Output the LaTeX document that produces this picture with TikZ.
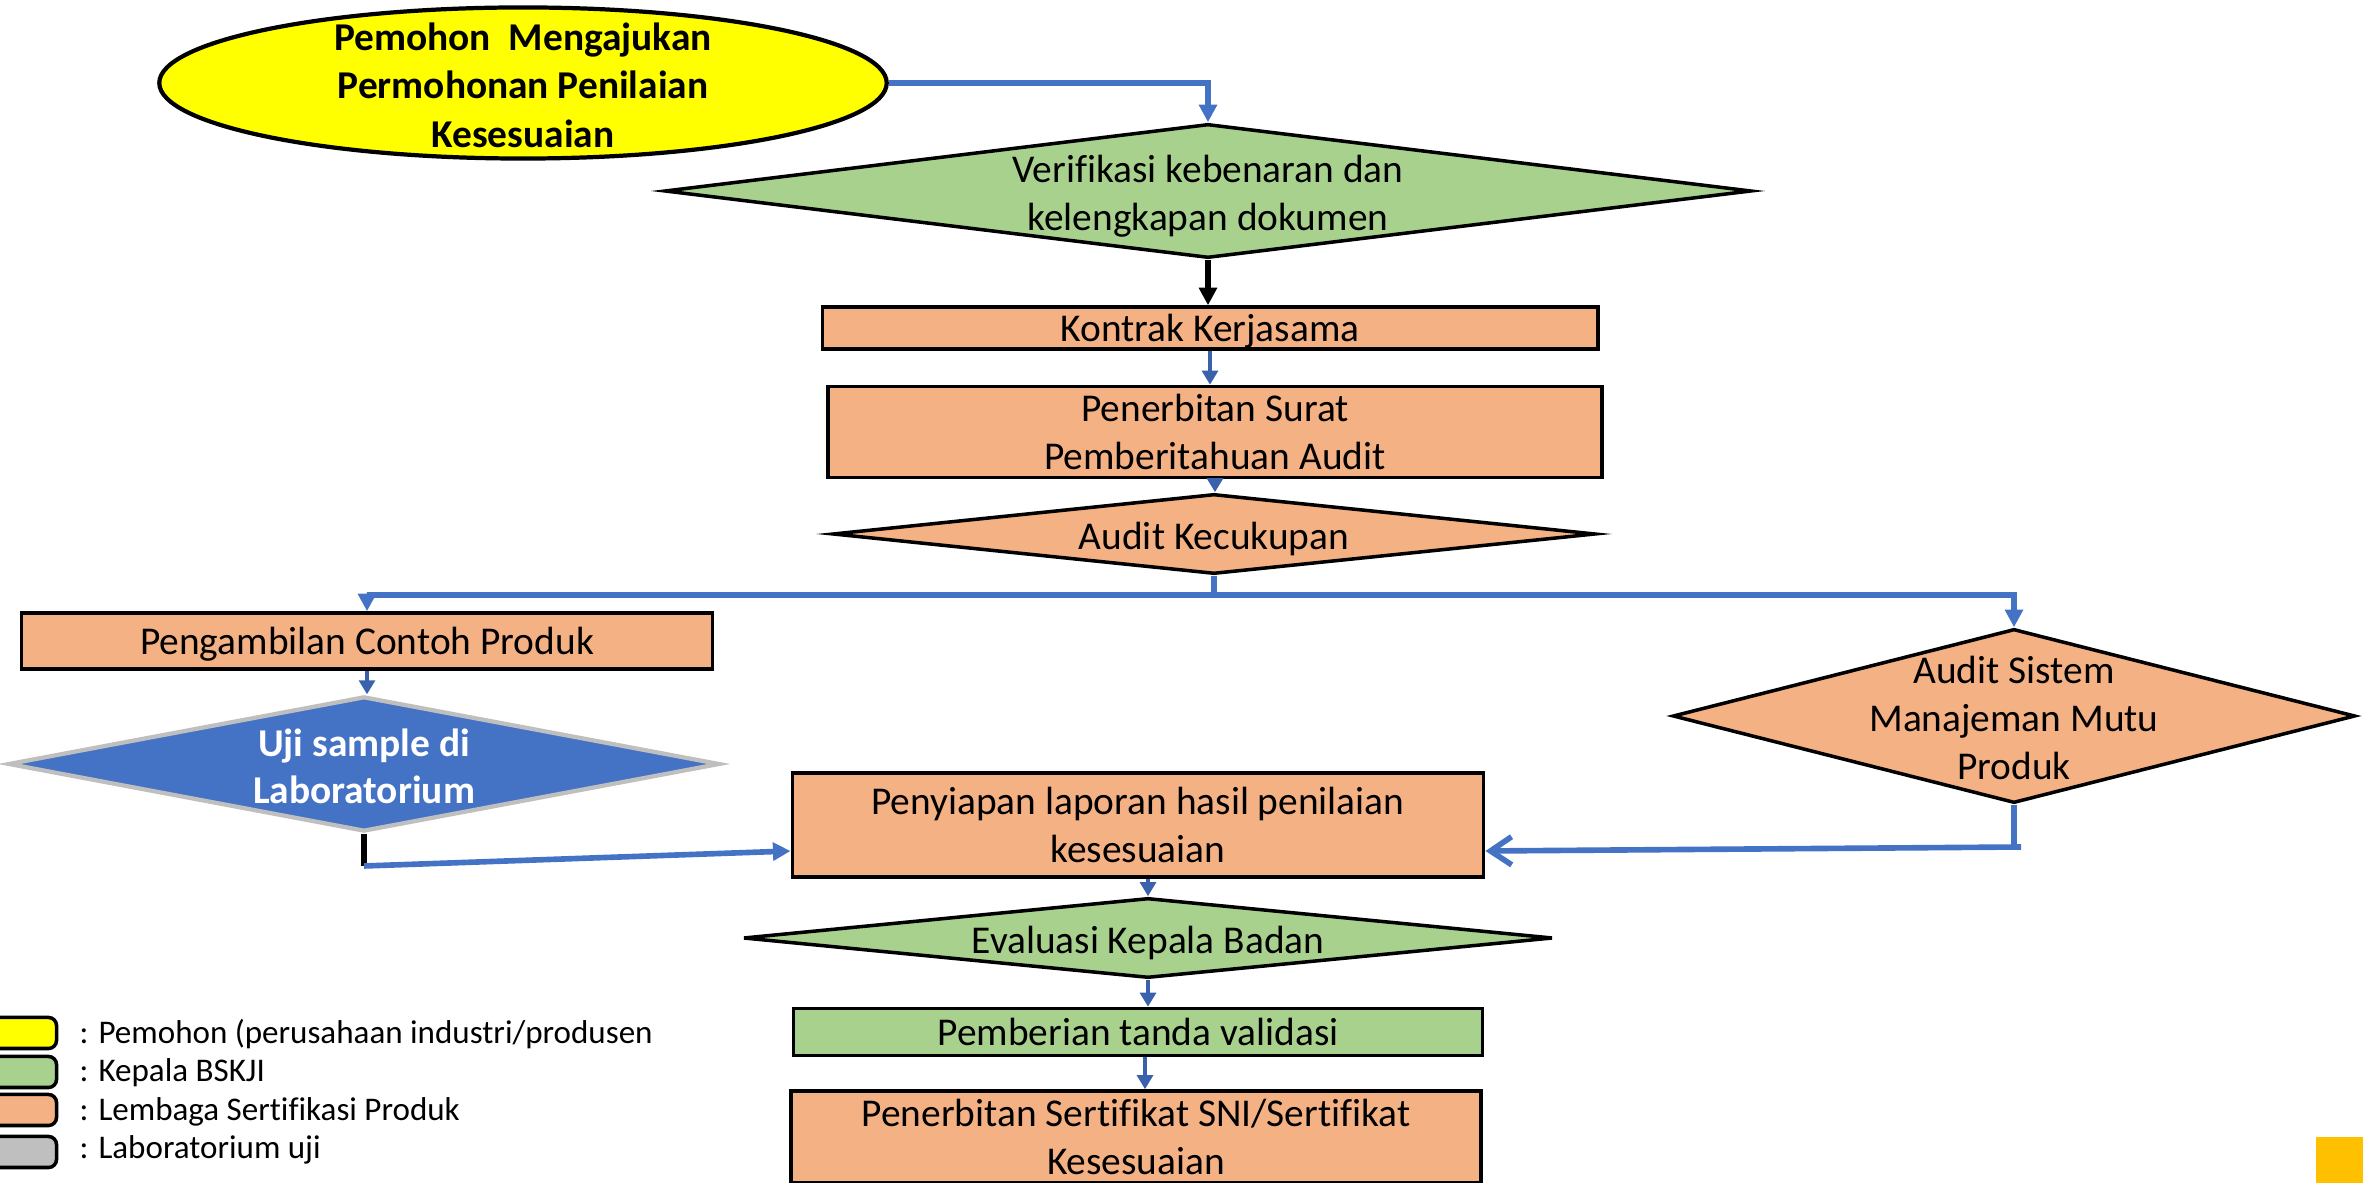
\documentclass[tikz,border=0pt]{standalone}
\usepackage{fontspec}
\setmainfont{Carlito}[Ligatures=NoCommon]
\usetikzlibrary{shapes.geometric,arrows.meta}

\definecolor{kuning}{HTML}{FFFF00}
\definecolor{hijau}{HTML}{A9D18E}
\definecolor{oranye}{HTML}{F4B183}
\definecolor{biru}{HTML}{4472C4}
\definecolor{birutua}{HTML}{3A62AC}
\definecolor{abu}{HTML}{BFBFBF}
\definecolor{emas}{HTML}{FFC000}

\tikzset{
  kotak/.style={rectangle, draw=black, line width=1pt, inner sep=0pt, align=center, text depth=0pt},
  belah/.style={diamond, draw=black, line width=1pt, inner sep=0pt},
  alur/.style={draw=biru, line width=1.6pt},
  panah/.style={draw=birutua, line width=1.3pt, -{Triangle[length=4pt,width=4.5pt]}},
  legenda/.style={rectangle, rounded corners=0.08cm, draw=black, line width=1pt, minimum width=0.77cm, minimum height=0.31cm, inner sep=0pt},
  ket/.style={anchor=west, inner sep=0pt, font=\fontsize{9.4}{11}\selectfont},
  every label/.style={text depth=0pt, yshift=-0.6pt},
}

\begin{document}
\begin{tikzpicture}[x=0.01cm, y=-0.01cm, font=\fontsize{11.2}{13.6}\selectfont]
		\useasboundingbox (0,0) rectangle (2363,1183);

		\node [ellipse, draw=black, line width=1.2pt, fill=kuning, inner sep=0pt, minimum width=7.27cm, minimum height=1.51cm,
			label={[align=center, font=\fontsize{11.2}{13.7}\selectfont\bfseries]center:Pemohon\ \ Mengajukan\\Permohonan Penilaian\\Kesesuaian}] (0) at (523,83) {};
		\node [belah, fill=hijau, minimum width=10.86cm, minimum height=1.34cm,
			label={[align=center]center:Verifikasi kebenaran dan\\kelengkapan dokumen}] (1) at (1208,191) {};
		\node [kotak, fill=oranye, minimum width=7.75cm, minimum height=0.42cm] (2) at (1210,328) {Kontrak Kerjasama};
		\node [kotak, fill=oranye, minimum width=7.74cm, minimum height=0.91cm] (3) at (1215,432) {Penerbitan Surat\\Pemberitahuan Audit};
		\node [belah, fill=oranye, minimum width=7.62cm, minimum height=0.80cm,
			label={center:Audit Kecukupan}] (4) at (1214,534) {};
		\node [kotak, fill=oranye, minimum width=6.91cm, minimum height=0.56cm] (5) at (367,641) {Pengambilan Contoh Produk};
		\node [diamond, draw=abu, line width=1.2pt, fill=biru, inner sep=0pt, minimum width=7.11cm, minimum height=1.35cm,
			label={[align=center, text=white, font=\fontsize{11.2}{13.6}\selectfont\bfseries]center:Uji sample di\\Laboratorium}] (6) at (364,764) {};
		\node [belah, fill=oranye, minimum width=6.82cm, minimum height=1.74cm,
			label={[align=center]center:Audit Sistem\\Manajeman Mutu\\Produk}] (7) at (2014,716) {};
		\node [kotak, fill=oranye, minimum width=6.91cm, minimum height=1.04cm] (8) at (1138,825) {Penyiapan laporan hasil penilaian\\kesesuaian};
		\node [belah, fill=hijau, minimum width=8.09cm, minimum height=0.80cm,
			label={center:Evaluasi Kepala Badan}] (13) at (1148,938) {};
		\node [kotak, fill=hijau, minimum width=6.89cm, minimum height=0.47cm] (14) at (1138,1032) {Pemberian tanda validasi};
		\node [kotak, fill=oranye, minimum width=6.90cm, minimum height=0.92cm] (15) at (1136,1137) {Penerbitan Sertifikat SNI/Sertifikat\\Kesesuaian};

		\coordinate (9) at (4.south |- 0,595);
		\coordinate (10) at (6.south |- 0,866);
		\coordinate (11) at (2021,847);

		\draw [alur, -{Triangle[length=5pt,width=5pt]}] (0.east) -| (1.north);
		\draw [black, line width=1.6pt, -{Triangle[length=5pt,width=5pt]}] (1.south) -- (1.south |- 2.north);
		\draw [panah] (2.south) -- (2.south |- 3.north);
		\draw [panah] (3.south) -- (3.south |- 4.north);
		\draw [alur, -{Triangle[length=5pt,width=5pt]}] (4.south) -- (9) -| (5.north);
		\draw [alur, -{Triangle[length=5pt,width=5pt]}] (9) -| (7.north);
		\draw [panah] (5.south) -- (5.south |- 6.north);

		\draw [black, line width=1.6pt] (6.south) -- (10);
		\draw [alur, -{Triangle[length=5pt,width=5pt]}] (10) -- (8.west |- 0,851);
		\draw [alur] (7.south) -- (7.south |- 11) -- (11);
		\draw [alur, -{Straight Barb[length=6pt,width=8pt]}] (11) -- (8.east |- 0,851);

		\draw [panah] (13.north |- 8.south) -- (13.north);
		\draw [panah] (13.south) -- (13.south |- 14.north);
		\draw [panah] (14.south -| 1145,0) -- (15.north -| 1145,0);

		% keterangan
		\node [legenda, fill=kuning] (16) at (18,1033) {};
		\node [legenda, fill=hijau] (17) at (18,1072) {};
		\node [legenda, fill=oranye] (18) at (18,1110) {};
		\node [legenda, fill=abu] (19) at (18,1152) {};
		\node [ket] (20) at (79,1034) {: Pemohon (perusahaan industri/produsen};
		\node [ket] (21) at (79,1073) {: Kepala BSKJI};
		\node [ket] (22) at (79,1112) {: Lembaga Sertifikasi Produk};
		\node [ket] (23) at (79,1150) {: Laboratorium uji};

		\fill [emas] (2316,1137) rectangle (2380,1200);
\end{tikzpicture}
\end{document}
